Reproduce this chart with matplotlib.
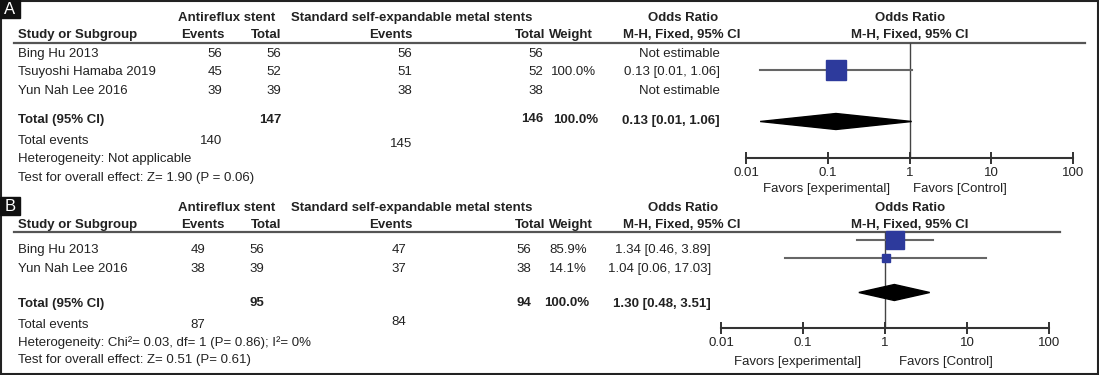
import matplotlib.pyplot as plt
from matplotlib.patches import Rectangle

plt.rcParams["font.family"] = ["Liberation Sans", "DejaVu Sans"]

W, H = 1099, 375
FS = 9.5
TXT = "#222222"
LINE = "#555555"
BLUE = "#2d3a9c"

# ---- data: panel A ----
a_studies = ["Bing Hu 2013", "Tsuyoshi Hamaba 2019", "Yun Nah Lee 2016"]
a_exp_events = [56, 45, 39]
a_exp_total = [56, 52, 39]
a_ctl_events = [56, 51, 38]
a_ctl_total = [56, 52, 38]
a_weight = [None, 100.0, None]
a_or = [None, 0.126, None]
a_lo = [None, 0.0149, None]
a_hi = [None, 1.064, None]
a_or_text = ["Not estimable", "0.13 [0.01, 1.06]", "Not estimable"]
a_total = {"exp_total": 147, "ctl_total": 146, "exp_events": 140, "ctl_events": 145,
           "or": 0.126, "lo": 0.0149, "hi": 1.064, "or_text": "0.13 [0.01, 1.06]"}
a_het = "Heterogeneity: Not applicable"
a_test = "Test for overall effect: Z= 1.90 (P = 0.06)"

# ---- data: panel B ----
b_studies = ["Bing Hu 2013", "Yun Nah Lee 2016"]
b_exp_events = [49, 38]
b_exp_total = [56, 39]
b_ctl_events = [47, 37]
b_ctl_total = [56, 38]
b_weight = [85.9, 14.1]
b_or = [1.34, 1.04]
b_lo = [0.46, 0.06]
b_hi = [3.89, 17.03]
b_or_text = ["1.34 [0.46, 3.89]", "1.04 [0.06, 17.03]"]
b_total = {"exp_total": 95, "ctl_total": 94, "exp_events": 87, "ctl_events": 84,
           "or": 1.30, "lo": 0.48, "hi": 3.51, "or_text": "1.30 [0.48, 3.51]"}
b_het = "Heterogeneity: Chi\u00b2= 0.03, df= 1 (P= 0.86); I\u00b2= 0%"
b_test = "Test for overall effect: Z= 0.51 (P= 0.61)"

ticks = [0.01, 0.1, 1, 10, 100]
tick_labels = ["0.01", "0.1", "1", "10", "100"]

fig = plt.figure(figsize=(W / 100, H / 100), dpi=100)
base = fig.add_axes([0, 0, 1, 1])
base.set_xlim(0, W)
base.set_ylim(H, 0)
base.axis("off")


def t(x, y, s, ha="left", bold=False, **kw):
    base.text(x, y, s, ha=ha, va="center_baseline", fontsize=FS, color=TXT,
              fontweight="bold" if bold else "normal", **kw)


def panel(letter, y0, studies, ee, et, ce, ct, wt, ors, los, his, ortext, tot,
          het, test, lay):
    # letter box
    yb = lay["box"]
    base.add_patch(Rectangle((0, yb), 20, 18, color="#111111", zorder=5))
    base.text(10, yb + 9.5, letter, ha="center", va="center", color="white",
              fontsize=12, zorder=6)
    h1, h2 = y0 + 16.5, y0 + 33.5
    t(178, h1, "Antireflux stent", bold=True)
    t(412, h1, "Standard self-expandable metal stents", ha="center", bold=True)
    t(683, h1, "Odds Ratio", ha="center", bold=True)
    t(910, h1, "Odds Ratio", ha="center", bold=True)
    t(18, h2, "Study or Subgroup", bold=True)
    t(225, h2, "Events", ha="right", bold=True)
    t(281, h2, "Total", ha="right", bold=True)
    t(413, h2, "Events", ha="right", bold=True)
    t(545, h2, "Total", ha="right", bold=True)
    t(593, h2, "Weight", ha="right", bold=True)
    t(740, h2, "M-H, Fixed, 95% CI", ha="right", bold=True)
    t(910, h2, "M-H, Fixed, 95% CI", ha="center", bold=True)
    base.plot([14, lay["line_end"]], [lay["hline"]] * 2, color=LINE, lw=1.6)

    cx = lay["cols"]
    for i, name in enumerate(studies):
        y = lay["rows"][i]
        t(18, y, name)
        t(cx[0], y, str(ee[i]), ha="right")
        t(cx[1], y, str(et[i]), ha="right")
        t(cx[2], y, str(ce[i]), ha="right")
        t(cx[3], y, str(ct[i]), ha="right")
        if wt[i] is not None:
            t(cx[4], y, f"{wt[i]:.1f}%", ha="right")
        t(cx[5], y, ortext[i], ha="right")

    yt = lay["total"]
    t(18, yt, "Total (95% CI)", bold=True)
    t(cx[1], yt, str(tot["exp_total"]), ha="right", bold=True)
    t(cx[3], yt - 1, str(tot["ctl_total"]), ha="right", bold=True)
    t(cx[4] + 2, yt, "100.0%", ha="right", bold=True)
    t(cx[5], yt + 1, tot["or_text"], ha="right", bold=True)
    t(18, lay["events"], "Total events")
    t(cx[0], lay["events"], str(tot["exp_events"]), ha="right")
    t(cx[2], lay["events"] + lay["ev_off"], str(tot["ctl_events"]), ha="right")
    t(18, lay["het"], het)
    t(18, lay["test"], test)

    # forest plot
    l, r, top, bot = lay["plot"]
    ax = fig.add_axes([l / W, 1 - bot / H, (r - l) / W, (bot - top) / H])
    ax.set_facecolor("none")
    ax.set_xscale("log")
    ax.set_xlim(0.01, 100)
    ax.set_ylim(bot, top)
    for s in ["top", "left", "right"]:
        ax.spines[s].set_visible(False)
    ax.spines["bottom"].set_color("#333333")
    ax.spines["bottom"].set_linewidth(1.5)
    ax.set_yticks([])
    ax.set_xticks(ticks)
    ax.set_xticklabels(tick_labels)
    ax.minorticks_off()
    ax.tick_params(axis="x", direction="inout", length=9, width=1.4,
                   colors="#333333", labelsize=FS, labelcolor=TXT, pad=2)
    ax.axvline(1, color="#444444", lw=1.0, zorder=1)
    for i in range(len(studies)):
        if ors[i] is None:
            continue
        y = lay["prow"][i]
        ax.plot([los[i], his[i]], [y, y], color="#666666", lw=1.5, zorder=2,
                clip_on=False)
        ax.plot([ors[i]], [y], marker="s", ms=20 * 0.72 * (wt[i] / 100) ** 0.5,
                color=BLUE, mec=BLUE, zorder=3, clip_on=False)
    yd = lay["pdiam"]
    ax.fill([tot["lo"], tot["or"], tot["hi"], tot["or"]],
            [yd, yd - 8, yd, yd + 8], color="black", zorder=3)
    fx = lay["favors"]
    base.text(fx[0], lay["fav_y"], "Favors [experimental]", ha="center",
              va="center_baseline", fontsize=FS, color=TXT)
    base.text(fx[1], lay["fav_y"], "Favors [Control]", ha="center",
              va="center_baseline", fontsize=FS, color=TXT)


panel("A", 0, a_studies, a_exp_events, a_exp_total, a_ctl_events, a_ctl_total,
      a_weight, a_or, a_lo, a_hi, a_or_text, a_total, a_het, a_test,
      dict(box=0, hline=43, line_end=1085, rows=[52.5, 70.5, 89], total=118.5,
           events=140, ev_off=2.5, het=157.5, test=176.5,
           cols=[222, 281, 412, 543, 596, 720],
           plot=(746, 1073, 43, 158), prow=[52.5, 70, 89], pdiam=121.5,
           favors=(827, 960), fav_y=187.5))

panel("B", 190, b_studies, b_exp_events, b_exp_total, b_ctl_events, b_ctl_total,
      b_weight, b_or, b_lo, b_hi, b_or_text, b_total, b_het, b_test,
      dict(box=197, hline=232, line_end=1060, rows=[248.5, 267.5], total=302,
           events=323, ev_off=-2.5, het=341, test=359,
           cols=[205, 264, 406, 531, 587, 711],
           plot=(721, 1049, 232, 328), prow=[240.5, 258], pdiam=292.5,
           favors=(798, 946), fav_y=360.5))

base.add_patch(Rectangle((1, 1), W - 2.5, H - 2.5, fill=False,
                         edgecolor="#222222", lw=1.5))

fig.savefig("out.png", dpi=100)
